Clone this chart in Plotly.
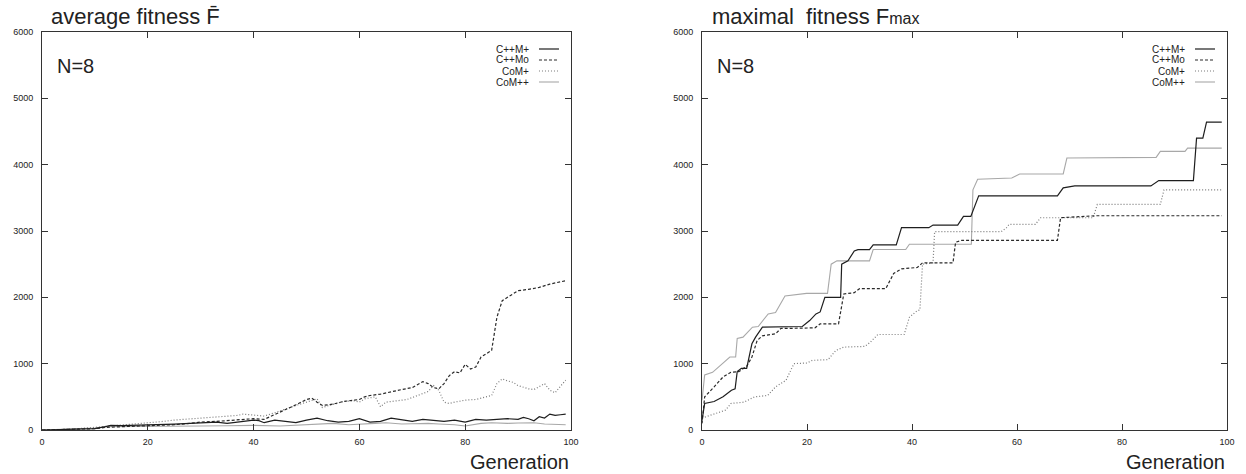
import plotly.graph_objects as go

# ---------------- data: average fitness (left panel) ----------------
avg_cpm_plus_x = [0,5,8,10,12,13,15,18,20,23,25,28,30,33,35,38,40,41,42,44,46,48,50,52,54,56,58,60,62,64,66,68,70,72,74,76,78,80,82,84,86,88,90,91,92,93,94,95,96,97,98,99]
avg_cpm_plus_y = [0,5,10,20,50,70,65,70,75,80,90,100,110,120,100,130,150,140,110,150,130,110,150,180,140,120,130,170,120,130,180,150,130,160,150,130,150,120,160,150,160,170,160,190,170,140,200,180,240,220,230,240]

avg_cpmo_x = [0,5,10,12,15,18,20,22,25,28,30,33,35,38,40,42,44,46,48,50,51,52,53,55,57,59,60,61,62,64,66,68,70,71,72,73,74,75,76,77,78,79,80,81,82,83,84,85,86,87,88,89,90,92,94,96,98,99]
avg_cpmo_y = [0,5,20,40,50,55,60,65,80,100,120,130,140,150,170,160,230,300,380,460,480,420,370,390,430,450,460,500,520,540,580,610,640,680,730,700,640,620,700,820,880,860,990,920,950,1100,1150,1200,1700,1950,2000,2050,2100,2120,2150,2200,2230,2250]

avg_com_plus_x = [0,5,10,13,15,18,20,23,25,28,30,33,35,37,38,40,42,44,46,48,50,51,52,53,55,57,59,60,61,62,63,64,65,67,69,71,73,74,75,76,77,78,80,82,84,85,86,87,88,89,90,92,93,94,95,96,97,98,99]
avg_com_plus_y = [0,10,40,60,70,90,110,130,150,170,180,200,210,220,240,220,210,260,320,370,420,440,470,340,390,430,440,420,470,480,500,350,420,440,460,520,580,670,600,420,400,420,450,460,500,520,700,770,740,720,670,620,610,660,700,600,560,660,750]

avg_com_pp_x = [0,5,10,12,15,20,25,30,35,40,45,50,53,55,58,60,63,65,68,70,73,75,78,80,83,85,88,90,93,95,97,99]
avg_com_pp_y = [0,10,30,50,50,55,60,60,65,70,60,75,90,100,80,85,100,110,90,95,100,90,80,60,100,110,100,105,110,90,80,80]

# ---------------- data: maximal fitness (right panel) ----------------
max_cpm_plus_x = [0,0.5,2.3,4,5.6,6.3,6.7,7.5,8.5,9.5,10.2,11.5,19.1,20.5,21.7,22.5,23.4,26.4,26.6,27.8,29,29.7,31.9,32.6,37,38,43.2,44,48.7,49.8,51.2,52.7,67.7,68.8,71,85.5,87,93.6,94.2,95.4,96.1,99]
max_cpm_plus_y = [150,400,430,500,600,620,880,930,930,1300,1400,1550,1560,1650,1750,1780,2000,2000,2500,2550,2700,2720,2720,2790,2790,3050,3050,3090,3090,3220,3220,3530,3530,3650,3680,3680,3760,3760,4400,4400,4640,4640]

max_cpmo_x = [0,0.5,2.3,4,5.5,7,8.5,9.5,10.5,11.5,14,15,21.5,22.5,26,27,29,30,35,36.5,38,41,42,47.8,48.3,49.5,67.7,68.3,75,99]
max_cpmo_y = [100,500,650,800,870,880,960,1100,1350,1420,1450,1530,1540,1600,1600,2050,2070,2130,2130,2360,2430,2450,2520,2520,2830,2860,2860,3200,3230,3230]

max_com_plus_x = [0,2.5,4.5,5.5,8,10,12.5,14,16,17.5,20,21,24,25.5,27,31,32,33.5,38.5,39.5,41,41.5,42,44,44.3,52,57,58,58.5,63.5,64.5,74.5,75.3,87.3,88,99]
max_com_plus_y = [180,250,300,400,420,500,520,650,750,1000,1010,1050,1060,1200,1250,1260,1320,1440,1440,1700,1800,1810,2500,2520,2990,2990,2990,3050,3100,3100,3200,3200,3400,3400,3620,3620]

max_com_pp_x = [0,0.5,2,5.3,6.4,6.7,7.8,9.6,10.7,12.6,14,15.8,19.9,23.9,24.6,25.7,31.9,32.6,38.8,39.5,51.3,51.6,52.5,59,60.5,68.8,69.5,86.5,87.3,92,92.5,99]
max_com_pp_y = [450,830,870,1100,1100,1380,1400,1550,1560,1750,1770,2020,2060,2060,2500,2550,2550,2720,2720,2800,2800,3620,3780,3800,3860,3860,4100,4110,4200,4200,4250,4250]

series_names = ["C++M+", "C++Mo", "CoM+", "CoM++"]
x_ticks = [0, 20, 40, 60, 80, 100]
y_ticks = [0, 1000, 2000, 3000, 4000, 5000, 6000]

styles = [
    dict(color="#1e1e1e", width=1.2, dash="solid"),
    dict(color="#2a2a2a", width=1.2, dash="3px,2px"),
    dict(color="#7a7a7a", width=1.2, dash="1px,2px"),
    dict(color="#a8a8a8", width=1.1, dash="solid"),
]

FONT = "Liberation Sans, Arial, Helvetica, sans-serif"

fig = go.Figure()

left = [(avg_cpm_plus_x, avg_cpm_plus_y), (avg_cpmo_x, avg_cpmo_y),
        (avg_com_plus_x, avg_com_plus_y), (avg_com_pp_x, avg_com_pp_y)]
right = [(max_cpm_plus_x, max_cpm_plus_y), (max_cpmo_x, max_cpmo_y),
         (max_com_plus_x, max_com_plus_y), (max_com_pp_x, max_com_pp_y)]

order = [3, 2, 1, 0]
for i in order:
    fig.add_trace(go.Scatter(x=left[i][0], y=left[i][1], mode="lines", name=series_names[i],
                             line=styles[i], xaxis="x", yaxis="y", showlegend=False))
for i in order:
    fig.add_trace(go.Scatter(x=right[i][0], y=right[i][1], mode="lines", name=series_names[i],
                             line=styles[i], xaxis="x2", yaxis="y2", showlegend=False))

axis_common = dict(
    showgrid=False, zeroline=False, showline=True, linecolor="#333",
    linewidth=1, mirror="ticks", ticks="inside", ticklen=6, tickcolor="#333",
    tickwidth=1, tickfont=dict(family=FONT, size=9, color="#222"),
)

left_dom = [0, 0.4464]
right_dom = [0.557, 1]

fig.update_layout(
    width=1246, height=474,
    margin=dict(l=42, r=19, t=32, b=44),
    paper_bgcolor="white", plot_bgcolor="white",
    xaxis=dict(axis_common, range=[0, 100], domain=left_dom, tickvals=x_ticks, anchor="y",
               ticklabelstandoff=3),
    yaxis=dict(axis_common, range=[0, 6000], domain=[0, 1], tickvals=y_ticks, anchor="x",
               ticklabelstandoff=6),
    xaxis2=dict(axis_common, range=[0, 100], domain=right_dom, tickvals=x_ticks, anchor="y2",
                ticklabelstandoff=3),
    yaxis2=dict(axis_common, range=[0, 6000], domain=[0, 1], tickvals=y_ticks, anchor="x2",
                ticklabelstandoff=6),
    showlegend=False,
)

ann = []
ann.append(dict(text="average fitness F\u0304", xref="paper", yref="paper", x=0.006, y=1.0,
                yshift=16, xanchor="left", yanchor="middle", showarrow=False,
                font=dict(family=FONT, size=22, color="#222")))
ann.append(dict(text="maximal\u00a0 fitness F<span style='font-size:16px'>max</span>",
                xref="paper", yref="paper", x=right_dom[0] + 0.007, y=1.0,
                yshift=16, xanchor="left", yanchor="middle", showarrow=False,
                font=dict(family=FONT, size=22, color="#222")))
for xr, yr in [("x domain", "y domain"), ("x2 domain", "y2 domain")]:
    ann.append(dict(text="N=8", xref=xr, yref=yr, x=0.025, y=0.915, xanchor="left",
                    yanchor="middle", showarrow=False, font=dict(family=FONT, size=20, color="#222")))
for dom in (left_dom, right_dom):
    ann.append(dict(text="Generation", xref="paper", yref="paper", x=dom[1], y=0, yshift=-32,
                    xanchor="right", yanchor="middle", showarrow=False,
                    font=dict(family=FONT, size=20, color="#222")))

shapes = []
row_y = [49, 60, 71, 82]
plot_top, plot_bot = 32, 430
for xr, yr, width_px in [("x domain", "y domain", 529), ("x2 domain", "y2 domain", 525)]:
    for k, name in enumerate(series_names):
        yfrac = (plot_bot - row_y[k]) / (plot_bot - plot_top)
        x_end = 1 - 12 / width_px
        x_start = 1 - 32 / width_px
        x_text = 1 - 40 / width_px
        ann.append(dict(text=name, xref=xr, yref=yr, x=x_text, y=yfrac, xanchor="right",
                        yanchor="middle", showarrow=False,
                        font=dict(family=FONT, size=10, color="#222")))
        st = styles[k]
        shapes.append(dict(type="line", xref=xr, yref=yr, x0=x_start, x1=x_end, y0=yfrac, y1=yfrac,
                           line=dict(color=st["color"], width=st["width"], dash=st["dash"])))

fig.update_layout(annotations=ann, shapes=shapes)
fig.write_html("out.html", config={"displayModeBar": False},
               post_script="document.body.style.margin='0px';document.body.style.overflow='hidden';")
